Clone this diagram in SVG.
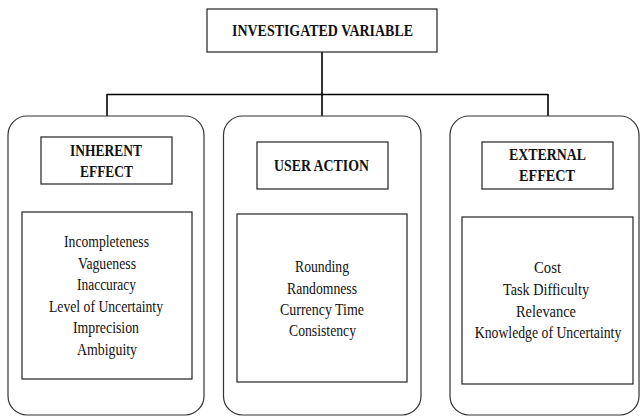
<svg xmlns="http://www.w3.org/2000/svg" width="641" height="417" viewBox="0 0 641 417">
<style>
.box{fill:#fff;stroke:#222;stroke-width:1.2}
.round{fill:#fff;stroke:#333;stroke-width:1.2}
.conn{fill:none;stroke:#000;stroke-width:1.6}
.b{font-family:"Liberation Serif","Times New Roman",serif;font-weight:bold;font-size:17px;fill:#111;text-anchor:middle}
.r{font-family:"Liberation Serif","Times New Roman",serif;font-size:16px;fill:#111;text-anchor:middle}
</style>
<rect width="641" height="417" fill="#fff"/>
<g id="connectors">
<path class="conn" d="M322 52 V116 M107 94.5 H548 M107 94 V116 M548 94 V116"/>
</g>
<g id="investigated-variable">
<rect class="box" x="207" y="9" width="230" height="43"/>
<text class="b" x="322.5" y="35.5" textLength="181" lengthAdjust="spacingAndGlyphs">INVESTIGATED VARIABLE</text>
</g>
<g id="inherent-effect">
<rect class="round" x="8" y="116" width="196" height="299" rx="19"/>
<rect class="box" x="41" y="137" width="131" height="47"/>
<text class="b" x="106" y="156" textLength="72" lengthAdjust="spacingAndGlyphs">INHERENT</text>
<text class="b" x="106.5" y="177" textLength="53" lengthAdjust="spacingAndGlyphs">EFFECT</text>
<rect class="box" x="22" y="212" width="170" height="167"/>
<text class="r" x="106.5" y="247" textLength="85" lengthAdjust="spacingAndGlyphs">Incompleteness</text>
<text class="r" x="107" y="268.5" textLength="58" lengthAdjust="spacingAndGlyphs">Vagueness</text>
<text class="r" x="106.5" y="290" textLength="59" lengthAdjust="spacingAndGlyphs">Inaccuracy</text>
<text class="r" x="106" y="311.5" textLength="114" lengthAdjust="spacingAndGlyphs">Level of Uncertainty</text>
<text class="r" x="106" y="333" textLength="66" lengthAdjust="spacingAndGlyphs">Imprecision</text>
<text class="r" x="107" y="354.5" textLength="60" lengthAdjust="spacingAndGlyphs">Ambiguity</text>
</g>
<g id="user-action">
<rect class="round" x="223.5" y="116" width="197.5" height="299" rx="19"/>
<rect class="box" x="257" y="142" width="131" height="47"/>
<text class="b" x="321.5" y="171" textLength="95" lengthAdjust="spacingAndGlyphs">USER ACTION</text>
<rect class="box" x="237" y="214" width="170" height="168"/>
<text class="r" x="322" y="272" textLength="54" lengthAdjust="spacingAndGlyphs">Rounding</text>
<text class="r" x="322" y="293.5" textLength="70" lengthAdjust="spacingAndGlyphs">Randomness</text>
<text class="r" x="322" y="314.5" textLength="84" lengthAdjust="spacingAndGlyphs">Currency Time</text>
<text class="r" x="322.5" y="335.5" textLength="67" lengthAdjust="spacingAndGlyphs">Consistency</text>
</g>
<g id="external-effect">
<rect class="round" x="450" y="116" width="189" height="299" rx="19"/>
<rect class="box" x="482" y="142" width="131" height="47"/>
<text class="b" x="547.5" y="160" textLength="77" lengthAdjust="spacingAndGlyphs">EXTERNAL</text>
<text class="b" x="547" y="181" textLength="56" lengthAdjust="spacingAndGlyphs">EFFECT</text>
<rect class="box" x="462" y="217" width="171" height="167"/>
<text class="r" x="547.5" y="273" textLength="27" lengthAdjust="spacingAndGlyphs">Cost</text>
<text class="r" x="546" y="295" textLength="86" lengthAdjust="spacingAndGlyphs">Task Difficulty</text>
<text class="r" x="546" y="316.5" textLength="60" lengthAdjust="spacingAndGlyphs">Relevance</text>
<text class="r" transform="translate(548 338) scale(0.86 1)" x="0" y="0">Knowledge of Uncertainty</text>
</g>
</svg>
